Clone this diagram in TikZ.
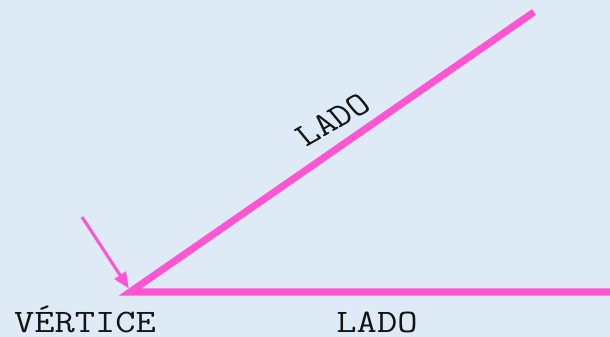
\documentclass[tikz,border=0pt]{standalone}
\usetikzlibrary{arrows.meta,positioning}
\definecolor{fondo}{RGB}{222,234,246}
\definecolor{rosa}{RGB}{255,85,210}
\definecolor{tinta}{RGB}{20,20,20}
\tikzset{
  lado/.style={draw=rosa,line width=6pt},
  flecha/.style={draw=rosa,line width=2.6pt,-{Triangle[length=4.8mm,width=4mm]}},
  rotulo/.style={font=\ttfamily\fontsize{28}{30}\selectfont,text=tinta,inner sep=0pt,xscale=1.2},
}
\begin{document}
\begin{tikzpicture}[x=0.03cm,y=-0.03cm]
  \fill[fondo] (0,0) rectangle (610,337);
  \useasboundingbox (0,0) rectangle (610,337);
  % angulo
  \coordinate (vertice) at (130,292);
  \coordinate (fin1) at (612,292);
  \coordinate (fin2) at (534,12);
  \coordinate (origen) at (82,217);
  \draw[lado] (fin2) -- (vertice) -- (fin1);
  \draw[flecha] (origen) -- ([xshift=-1pt,yshift=3pt]vertice);
  % rotulos
  \node[rotulo,anchor=base] (tvert) at (85,332) {VÉRTICE};
  \node[rotulo,anchor=base] (tlado1) at (377,332) {LADO};
  \node[rotulo,rotate=34.7] (tlado2) at (333,120) {LADO};
\end{tikzpicture}
\end{document}
